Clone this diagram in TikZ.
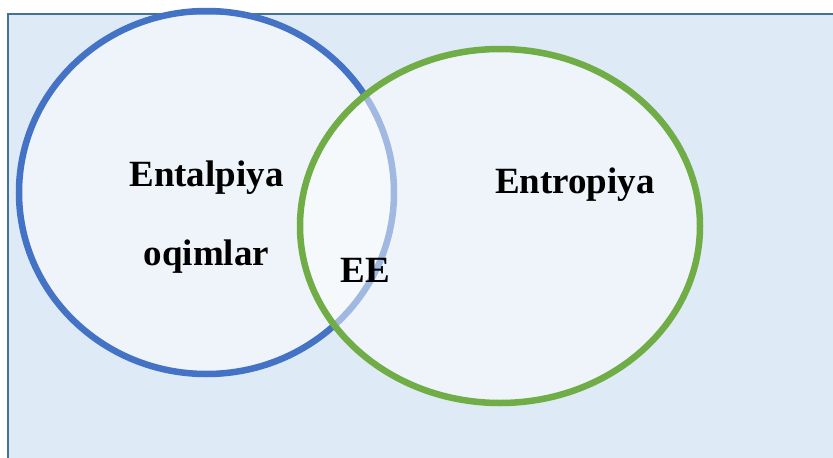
\documentclass[tikz,border=0pt]{standalone}
\usepackage{fontspec}
\setmainfont{Liberation Serif}
\usepackage{xcolor}
\usetikzlibrary{positioning, shapes}

\definecolor{setblue}{HTML}{4472C4}
\definecolor{setgreen}{HTML}{70AD47}
\definecolor{paneblue}{HTML}{DEEAF6}
\definecolor{paneline}{HTML}{41719C}

\begin{document}
\begin{tikzpicture}[x=1pt, y=-1pt,
    vset/.style={ellipse, line width=6.5pt, fill=white, fill opacity=0.5, draw opacity=1},
    vlabel/.style={anchor=base, font=\fontsize{37}{40}\selectfont\bfseries}]
      \useasboundingbox (0,0) rectangle (833,458);
      \clip (0,0) rectangle (833,458);
      \draw[fill=paneblue, draw=paneline, line width=2pt] (8,14) rectangle (850,470);
      % the two sets
      \node[vset, draw=setblue, minimum width=375pt, minimum height=363pt] (ental) at (206.5,192.5) {};
      \node[vset, draw=setgreen, minimum width=400pt, minimum height=354pt] (entro) at (500,226) {};
      % labels
      \node[vlabel] (entaltxt) at (206.5,186) {Entalpiya};
      \node[vlabel] (oqimtxt) at (206.5,265) {oqimlar};
      \node[vlabel] (entrotxt) at (575,193) {Entropiya};
      \node[vlabel] (eetxt) at (365.5,282) {EE};
    \end{tikzpicture}
\end{document}
